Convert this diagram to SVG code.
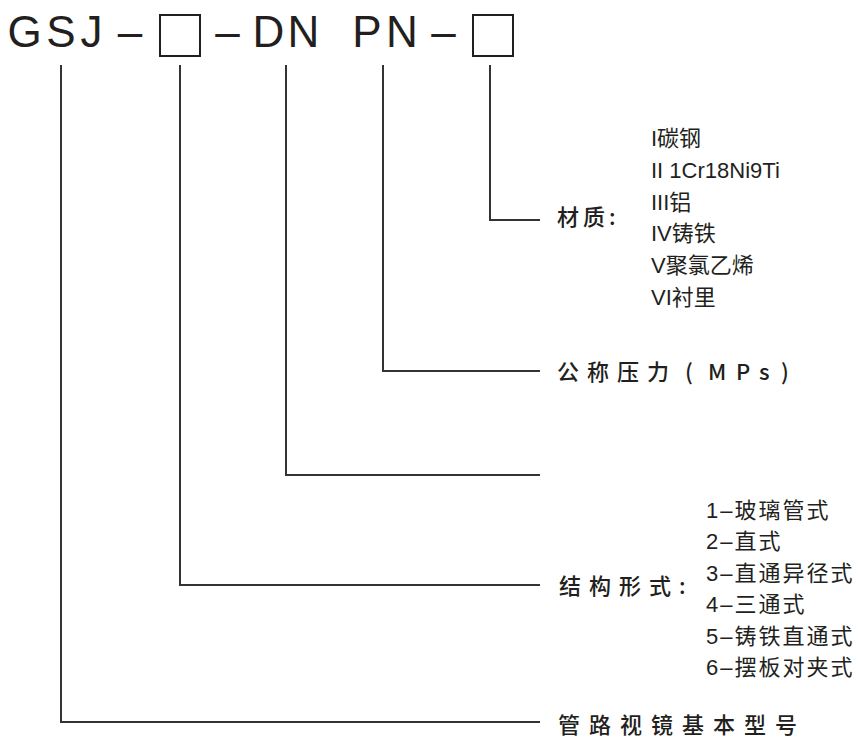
<svg xmlns="http://www.w3.org/2000/svg" width="858" height="740" viewBox="0 0 858 740">
<style>
.hdr{font-family:"Liberation Sans","Noto Sans CJK SC",sans-serif;font-size:44px;fill:#231f20;text-anchor:middle}
.lbl{font-family:"Noto Sans CJK SC","Liberation Sans",sans-serif;font-size:22px;font-weight:500;fill:#231f20}
.lst{font-family:"Liberation Sans","Noto Sans CJK SC",sans-serif;font-size:22px;fill:#231f20}
.lst2{font-family:"Liberation Sans","Noto Sans CJK SC",sans-serif;font-size:22px;fill:#231f20;letter-spacing:2px}
.box{fill:none;stroke:#231f20;stroke-width:2}
.ln{fill:none;stroke:#333;stroke-width:2}
</style>
<rect width="858" height="740" fill="#fff"/>
<g id="header">
<text class="hdr" x="24.5 61 91.5 130 227.5 268.5 303.5 367 402 443.5" y="47">GSJ––DNPN–</text>
<rect id="box1" class="box" x="160" y="15" width="40" height="41"/>
<rect id="box2" class="box" x="473" y="15" width="40" height="41"/>
</g>
<g id="connectors">
<polyline class="ln" points="490,65 490,220 540,220"/>
<polyline class="ln" points="383,65 383,371 540,371"/>
<polyline class="ln" points="286,65 286,475 540,475"/>
<polyline class="ln" points="180,65 180,585 540,585"/>
<polyline class="ln" points="61,65 61,722 540,722"/>
</g>
<g id="material">
<text class="lbl" x="557" y="225" letter-spacing="4">材质:</text>
<text class="lst" x="651" y="146">I碳钢</text>
<text class="lst" x="651" y="177.8">II 1Cr18Ni9Ti</text>
<text class="lst" x="651" y="209.6">III铝</text>
<text class="lst" x="651" y="241.4">IV铸铁</text>
<text class="lst" x="651" y="273.2">V聚氯乙烯</text>
<text class="lst" x="651" y="305">VI衬里</text>
</g>
<g id="pressure">
<text class="lbl" x="557 587 617 647 685 708 736 759 781" y="380">公称压力(MPs)</text>
</g>
<g id="structure">
<text class="lbl" x="559" y="594" letter-spacing="8">结构形式:</text>
<text class="lst2" x="706" y="518">1–玻璃管式</text>
<text class="lst2" x="706" y="549.4">2–直式</text>
<text class="lst2" x="706" y="580.8">3–直通异径式</text>
<text class="lst2" x="706" y="612.2">4–三通式</text>
<text class="lst2" x="706" y="643.6">5–铸铁直通式</text>
<text class="lst2" x="706" y="675">6–摆板对夹式</text>
</g>
<g id="basic">
<text class="lbl" x="558" y="733" letter-spacing="9">管路视镜基本型号</text>
</g>
</svg>
